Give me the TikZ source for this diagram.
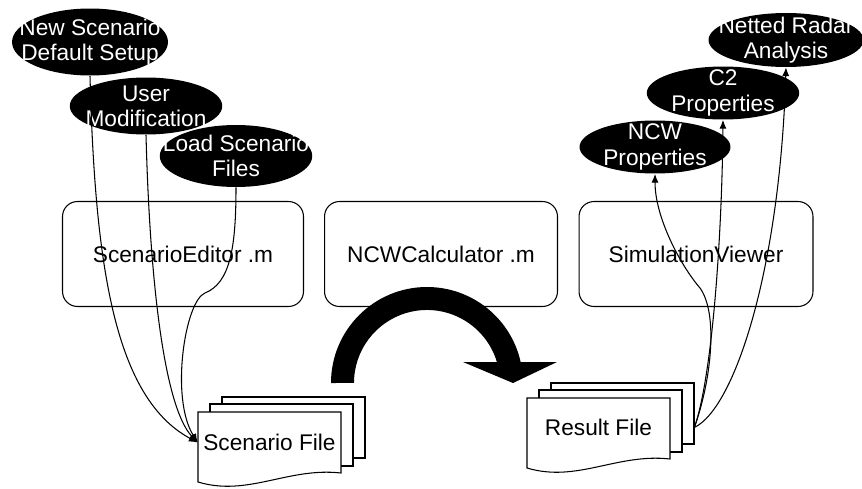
\documentclass[tikz,border=0pt]{standalone}
\usepackage{fontspec}
\setmainfont{Liberation Sans}
\usetikzlibrary{shapes,shapes.geometric,arrows.meta,positioning,calc}

\tikzset{
  bubble/.style={ellipse,fill=black,inner sep=0pt,
    minimum width=3.05cm,minimum height=1.06cm},
  bubbletext/.style={text=white,align=center,inner sep=0pt},
  tool/.style={draw,rounded corners=0.3cm,minimum height=2.1cm,line width=0.6pt},
  sheet/.style={draw,fill=white,line width=0.6pt},
  flow/.style={line width=0.6pt,-{Latex[length=5pt,width=4pt]}},
  docstack/.pic={
    \draw[sheet] (24,15) rectangle (167,-46);
    \draw[sheet] (12,8) rectangle (155,-54);
    \draw[sheet] (0,0) -- (143,0) -- (143,-61) .. controls (90,-55) and (50,-85) .. (0,-70) -- cycle;
  }
}

\begin{document}
\begin{tikzpicture}[x=0.02cm,y=0.02cm,font=\fontsize{12.9}{14.4}\selectfont]
      \useasboundingbox (0,0) rectangle (862,488);

      \coordinate (A) at (90,446);
      \coordinate (B) at (146,382);
      \coordinate (C) at (236,332);
      \coordinate (D) at (786,448);
      \coordinate (E) at (723,395);
      \coordinate (F) at (655,341);
      \coordinate (S) at (198,76);
      \coordinate (R) at (527,90);

      \node[tool,minimum width=4.82cm] (sced) at (183,234) {ScenarioEditor .m};
      \node[tool,minimum width=4.66cm] (ncwc) at (441,234) {NCWCalculator .m};
      \node[tool,minimum width=4.68cm] (simv) at (696,234) {SimulationViewer};

      \node[bubble,minimum width=3.12cm,minimum height=1.34cm,
        label={[bubbletext]center:New Scenario\\Default Setup}] (nsds) at (A) {};
      \node[bubble,minimum height=1.14cm,
        label={[bubbletext]center:User\\Modification}] (umod) at (B) {};
      \node[bubble,minimum height=1.24cm,
        label={[bubbletext]center:Load Scenario\\Files}] (lsf) at (C) {};
      \node[bubble,minimum width=3.1cm,minimum height=1.08cm,
        label={[bubbletext]center:Netted Radar\\Analysis}] (nra) at (D) {};
      \node[bubble,label={[bubbletext]center:C2\\Properties}] (c2p) at (E) {};
      \node[bubble,minimum width=3.02cm,label={[bubbletext]center:NCW\\Properties}] (ncwp) at (F) {};

      \pic at (S) {docstack};
      \pic at (R) {docstack};
      \node[minimum width=2.86cm,minimum height=1.22cm,inner sep=0pt] (sfile) at ($(S)+(71.5,-30.5)$) {Scenario File};
      \node[minimum width=2.86cm,minimum height=1.18cm,inner sep=0pt] (rfile) at ($(R)+(71.5,-29.5)$) {Result File};
      \coordinate (rout) at ($(rfile.east)+(24,0)$);

      % big bent arrow
      \fill (331,105) arc[start angle=180,end angle=12.6,radius=96] -- (557,126) -- (513,105)
        -- (463,126) -- (496.9,126) arc[start angle=16.7,end angle=180,radius=73] -- cycle;

      \draw[flow] (nsds.south) .. controls (95,220) and (115,90) .. (sfile.west);
      \draw[flow] (umod.south) .. controls (150,200) and (165,80) .. (sfile.west);
      \draw[flow] (lsf.south) .. controls (236,240) and (230,205) .. (205,195)
        .. controls (185,187) and (170,90) .. (sfile.west);

      \draw[flow] (rout) .. controls (712,110) and (718,175) .. (700,200)
        .. controls (681,222) and (655,270) .. (ncwp.south);
      \draw[flow] (rout) .. controls (712,110) and (722,250) .. (c2p.south);
      \draw[flow] (rout) .. controls (735,80) and (780,220) .. (nra.south);

\end{tikzpicture}
\end{document}
